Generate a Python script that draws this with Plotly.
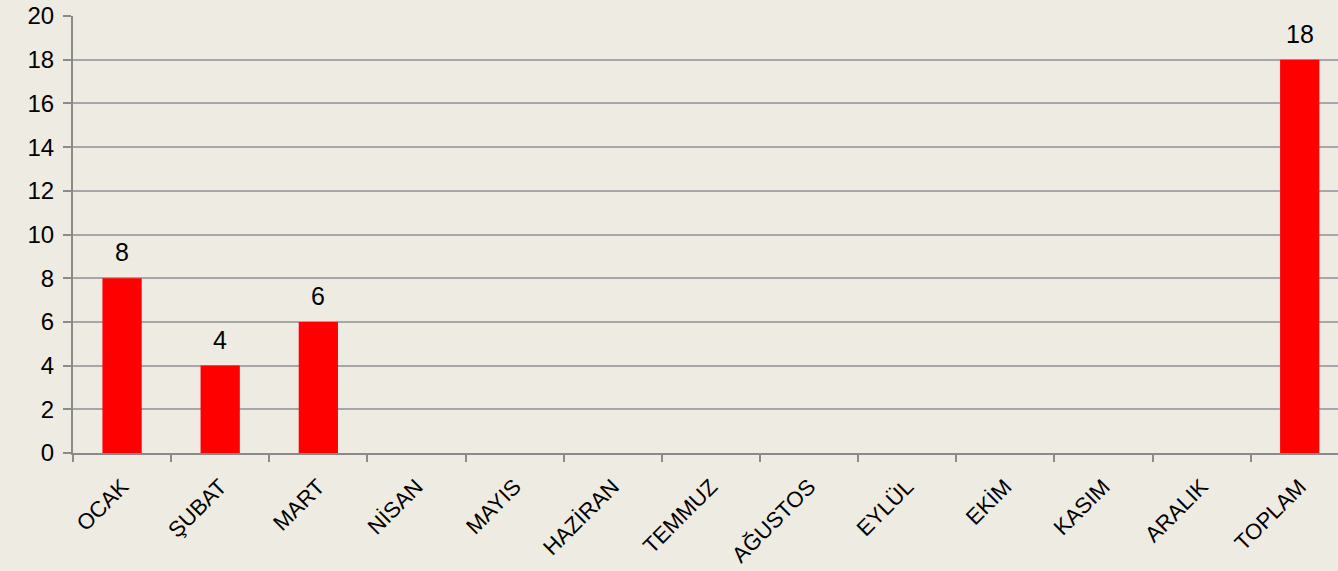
import plotly.graph_objects as go

categories = ["OCAK", "ŞUBAT", "MART", "NİSAN", "MAYIS", "HAZİRAN", "TEMMUZ",
              "AĞUSTOS", "EYLÜL", "EKİM", "KASIM", "ARALIK", "TOPLAM"]
values = [8, 4, 6, 0, 0, 0, 0, 0, 0, 0, 0, 0, 18]
y_ticks = [0, 2, 4, 6, 8, 10, 12, 14, 16, 18, 20]

bg = "#eeebe3"
axis_col = "#8a8a8a"
fig = go.Figure(go.Bar(
    x=categories, y=values,
    marker=dict(color="#ff0000", line=dict(width=0)),
    width=0.4,
))
for c, v in zip(categories, values):
    if v:
        fig.add_annotation(x=c, y=v, text=str(v), showarrow=False,
                           yanchor="bottom", yshift=10,
                           font=dict(family="Liberation Sans", size=25,
                                     color="#000000"))
fig.update_layout(
    width=1338, height=571,
    margin=dict(l=73, r=0, t=16, b=118),
    paper_bgcolor=bg, plot_bgcolor=bg,
    showlegend=False,
    font=dict(family="Liberation Sans", color="#000000"),
)
fig.update_xaxes(
    range=[-0.5, 12.39], tickangle=-45, tickson="boundaries",
    ticks="outside", ticklen=7, tickcolor=axis_col, tickwidth=2,
    showline=True, linecolor=axis_col, linewidth=2,
    tickfont=dict(size=22), showgrid=False, ticklabelstandoff=10,
)
fig.update_yaxes(
    range=[0, 20], tickvals=y_ticks, ticks="outside", ticklen=8,
    tickcolor=axis_col, tickwidth=2,
    showline=True, linecolor=axis_col, linewidth=2,
    showgrid=True, gridcolor="#a6a6a6", gridwidth=1.5,
    tickfont=dict(size=24), zeroline=False, ticklabelstandoff=4,
)
fig.write_html("out.html", config={"displayModeBar": False},
               post_script="document.body.style.margin='0';document.body.style.background='#eeebe3';")
